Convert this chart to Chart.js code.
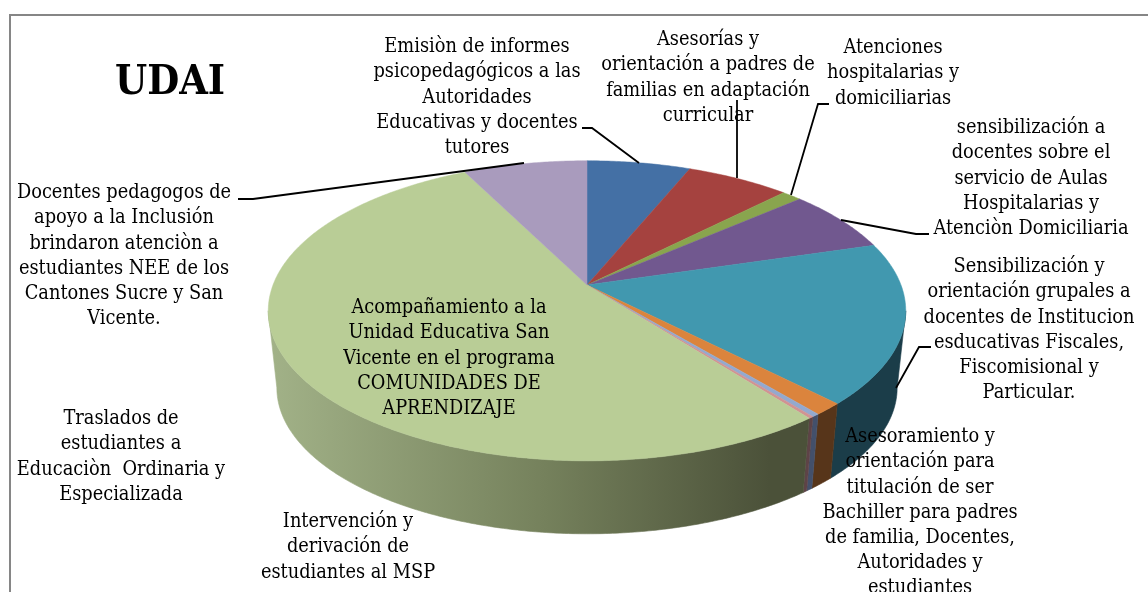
<!DOCTYPE html>
<html lang="es">
<head>
<meta charset="utf-8">
<title>UDAI</title>
<style>
html,body{margin:0;padding:0;background:#fff;overflow:hidden}
#wrap{position:relative;width:1148px;height:592px}
canvas{display:block}
</style>
<script src="https://cdn.jsdelivr.net/npm/chart.js@4/dist/chart.umd.min.js"></script>
</head>
<body>
<div id="wrap"><canvas id="c" width="1148" height="592"></canvas></div>
<script>
const chartTitle = 'UDAI';
const categories = [
  'Emisiòn de informes psicopedagógicos a las Autoridades Educativas y docentes tutores',
  'Asesorías y orientación a padres de familias en adaptación curricular',
  'Atenciones hospitalarias y domiciliarias',
  'sensibilización a docentes sobre el servicio de Aulas Hospitalarias y Atenciòn Domiciliaria',
  'Sensibilización y orientación grupales a docentes de Institucion esducativas Fiscales, Fiscomisional y Particular.',
  'Asesoramiento y orientación para titulación de ser Bachiller para padres de familia, Docentes, Autoridades y estudiantes',
  'Intervención y derivación de estudiantes al MSP',
  'Traslados de estudiantes a Educaciòn  Ordinaria y Especializada',
  'Acompañamiento a la Unidad Educativa San Vicente en el programa COMUNIDADES DE APRENDIZAJE',
  'Docentes pedagogos de apoyo a la Inclusión brindaron atenciòn a estudiantes NEE de los Cantones Sucre y San Vicente.'
];
const values = [6.2, 6.2, 1.2, 6.8, 17.3, 1.3, 0.33, 0.22, 53.1, 7.4];
const topColors = ['#4470A5','#A5423F','#89A54E','#71588F','#4198AF','#DB843D','#93A9CF','#D19392','#B9CD96','#A99BBD'];
const wallColors = ['#223854','#522120','#445227','#382C47','#1B3D49','#57351A','#43506B','#5E4347',null,'#544D5E'];
const labelLines = [
  ['Emisiòn de informes','psicopedagógicos a las','Autoridades','Educativas y docentes','tutores'],
  ['Asesorías y','orientación a padres de','familias en adaptación','curricular'],
  ['Atenciones','hospitalarias y','domiciliarias'],
  ['sensibilización a','docentes sobre el','servicio de Aulas','Hospitalarias y','Atenciòn Domiciliaria'],
  ['Sensibilización y','orientación grupales a','docentes de Institucion','esducativas Fiscales,','Fiscomisional y','Particular.'],
  ['Asesoramiento y','orientación para','titulación de ser','Bachiller para padres','de familia, Docentes,','Autoridades y','estudiantes'],
  ['Intervención y','derivación de','estudiantes al MSP'],
  ['Traslados de','estudiantes a','Educaciòn  Ordinaria y','Especializada'],
  ['Acompañamiento a la','Unidad Educativa San','Vicente en el programa','COMUNIDADES DE','APRENDIZAJE'],
  ['Docentes pedagogos de','apoyo a la Inclusión','brindaron atenciòn a','estudiantes NEE de los','Cantones Sucre y San','Vicente.']
];
const labelCenterX = [477, 708, 893, 1031, 1029, 920, 348, 121, 449, 124];
const labelFirstY  = [47, 40, 48, 128, 267, 437, 522, 419, 308, 193];
const leaderLines = [
  [[582,128],[592,128],[639,163]],
  [[737,100],[737,178]],
  [[829,104],[818,104],[791,195]],
  [[929,234],[916,234],[841,220]],
  [[931,347],[919,347],[896,388]],
  [[238,199],[253,199],[524,163]]
];

const FONT = '"DejaVu Serif Condensed", "DejaVu Serif", serif';
const LINE_H = 25.2;
const TILT = 0.4637, PERSP = -0.172;
const BOTTOM_SCALE = 0.973, DEPTH = 77.7;
const WALL_FROM = 99.9 * Math.PI / 180, WALL_TO = 260.1 * Math.PI / 180;

function rim(theta, cx, cy, R) {
  const x = Math.sin(theta), y = -Math.cos(theta), d = 1 + PERSP * y;
  return [cx + R * x / d, cy + R * TILT * y / d];
}
function tracePath(ctx, a, b, cx, cy, R, first) {
  const n = Math.max(2, Math.ceil(Math.abs(b - a) / 0.01));
  for (let i = 0; i <= n; i++) {
    const p = rim(a + (b - a) * i / n, cx, cy, R);
    if (i === 0 && first) ctx.moveTo(p[0], p[1]); else ctx.lineTo(p[0], p[1]);
  }
}

const pie3d = {
  id: 'pie3d',
  beforeDatasetsDraw(chart) {
    const ctx = chart.ctx;
    const arcs = chart.getDatasetMeta(0).data;
    ctx.save();
    const wallGrad = ctx.createLinearGradient(268, 0, 770, 0);
    wallGrad.addColorStop(0, '#A2B288');
    wallGrad.addColorStop(0.55, '#75815C');
    wallGrad.addColorStop(1, '#4B5139');
    arcs.forEach((arc, i) => {
      const a0 = arc.startAngle + Math.PI / 2, a1 = arc.endAngle + Math.PI / 2;
      const s = Math.max(a0, WALL_FROM), e = Math.min(a1, WALL_TO);
      if (e <= s) return;
      const fill = wallColors[i] || wallGrad;
      ctx.beginPath();
      tracePath(ctx, s, e, arc.x, arc.y, arc.outerRadius, true);
      tracePath(ctx, e, s, arc.x, arc.y + DEPTH, arc.outerRadius * BOTTOM_SCALE, false);
      ctx.closePath();
      ctx.fillStyle = fill; ctx.strokeStyle = fill; ctx.lineWidth = 0.6;
      ctx.fill(); ctx.stroke();
    });
    arcs.forEach((arc) => {
      const a0 = arc.startAngle + Math.PI / 2, a1 = arc.endAngle + Math.PI / 2;
      const fill = arc.options.backgroundColor;
      ctx.beginPath();
      ctx.moveTo(arc.x, arc.y);
      tracePath(ctx, a0, a1, arc.x, arc.y, arc.outerRadius, false);
      ctx.closePath();
      ctx.fillStyle = fill; ctx.strokeStyle = fill; ctx.lineWidth = 0.5;
      ctx.fill(); ctx.stroke();
    });
    ctx.restore();
    return false;
  },
  afterDraw(chart) {
    const ctx = chart.ctx;
    ctx.save();
    ctx.strokeStyle = '#868686'; ctx.lineWidth = 2;
    ctx.beginPath();
    ctx.moveTo(10, 600); ctx.lineTo(10, 15); ctx.lineTo(1150, 15);
    ctx.stroke();
    ctx.strokeStyle = '#000'; ctx.lineWidth = 1.8;
    leaderLines.forEach(pts => {
      ctx.beginPath();
      pts.forEach((p, i) => i ? ctx.lineTo(p[0], p[1]) : ctx.moveTo(p[0], p[1]));
      ctx.stroke();
    });
    ctx.fillStyle = '#000';
    ctx.textAlign = 'center'; ctx.textBaseline = 'middle';
    ctx.font = '19.8px ' + FONT;
    labelLines.forEach((lines, i) => {
      lines.forEach((t, j) => ctx.fillText(t, labelCenterX[i], labelFirstY[i] + j * LINE_H));
    });
    ctx.font = 'bold 41px ' + FONT;
    ctx.fillText(chartTitle, 170, 83);
    ctx.restore();
  }
};

new Chart(document.getElementById('c'), {
  type: 'pie',
  data: { labels: categories, datasets: [{ data: values, backgroundColor: topColors, borderWidth: 0 }] },
  options: {
    responsive: false,
    animation: false,
    radius: 314,
    layout: { padding: { left: 26, bottom: 22 } },
    plugins: { legend: { display: false }, tooltip: { enabled: false }, title: { display: false } }
  },
  plugins: [pie3d]
});
</script>
</body>
</html>
